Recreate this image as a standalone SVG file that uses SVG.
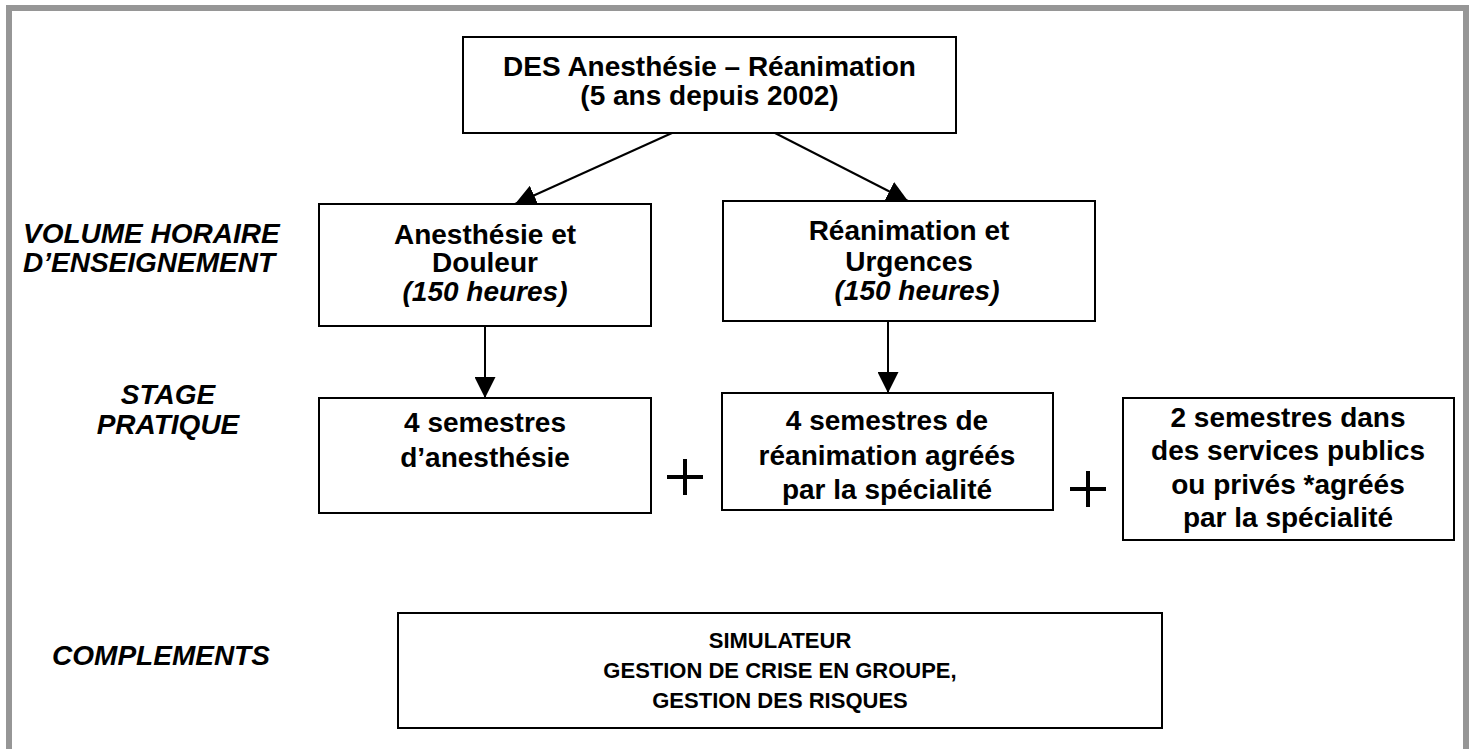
<svg xmlns="http://www.w3.org/2000/svg" width="1473" height="749" viewBox="0 0 1473 749">
<style>
.box{fill:#fff;stroke:#000;stroke-width:2}
.t{font-family:"Liberation Sans",Arial,sans-serif;font-weight:bold;font-size:28px;fill:#000;text-anchor:middle}
.i{font-style:italic}
.lbl{font-family:"Liberation Sans",Arial,sans-serif;font-weight:bold;font-style:italic;font-size:28px;fill:#000}
.s{font-size:22px}
.c{stroke:#000;stroke-width:2;fill:none}
.plus{stroke:#000;stroke-width:4}
</style>
<defs>
<marker id="ahb" viewBox="0 0 10 10" refX="10" refY="5" markerWidth="21" markerHeight="21" markerUnits="userSpaceOnUse" orient="auto">
<path d="M0,0 L10,5 L0,10 z" fill="#000"/>
</marker>
</defs>
<rect x="0" y="0" width="1473" height="749" fill="#fff"/>
<rect x="9" y="8" width="1457" height="770" fill="none" stroke="#969696" stroke-width="6"/>

<g id="labels">
<text class="lbl" x="23" y="243">VOLUME HORAIRE</text>
<text class="lbl" x="23" y="272">D’ENSEIGNEMENT</text>
<text class="lbl" x="168" y="404" text-anchor="middle" font-size="27">STAGE</text>
<text class="lbl" x="168" y="434" text-anchor="middle" font-size="27">PRATIQUE</text>
<text class="lbl" x="161" y="665" text-anchor="middle" font-size="26">COMPLEMENTS</text>
</g>

<g id="connectors">
<line class="c" x1="672" y1="133" x2="515" y2="204" marker-end="url(#ahb)"/>
<line class="c" x1="775" y1="133" x2="908" y2="201" marker-end="url(#ahb)"/>
<line class="c" x1="485" y1="326" x2="485" y2="398" marker-end="url(#ahb)"/>
<line class="c" x1="888" y1="321" x2="888" y2="393" marker-end="url(#ahb)"/>
</g>

<g id="n-des">
<rect class="box" x="463" y="37" width="493" height="96"/>
<text class="t" x="709.5" y="76">DES Anesthésie – Réanimation</text>
<text class="t" x="709.5" y="105">(5 ans depuis 2002)</text>
</g>

<g id="n-anesth">
<rect class="box" x="319" y="204" width="332" height="122"/>
<text class="t" x="485" y="244">Anesthésie et</text>
<text class="t" x="485" y="272">Douleur</text>
<text class="t i" x="485" y="301">(150 heures)</text>
</g>

<g id="n-rea">
<rect class="box" x="723" y="201" width="372" height="120"/>
<text class="t" x="909" y="240">Réanimation et</text>
<text class="t" x="909" y="271">Urgences</text>
<text class="t i" x="917" y="300">(150 heures)</text>
</g>

<g id="n-stage1">
<rect class="box" x="319" y="398" width="332" height="115"/>
<text class="t" x="485" y="432">4 semestres</text>
<text class="t" x="485" y="467">d’anesthésie</text>
</g>

<g id="plus1">
<line class="plus" x1="667" y1="477" x2="703" y2="477"/>
<line class="plus" x1="685" y1="459" x2="685" y2="495"/>
</g>

<g id="n-stage2">
<rect class="box" x="722" y="393" width="331" height="117"/>
<text class="t" x="887" y="430">4 semestres de</text>
<text class="t" x="887" y="465">réanimation agréés</text>
<text class="t" x="887" y="499">par la spécialité</text>
</g>

<g id="plus2">
<line class="plus" x1="1070" y1="489" x2="1106" y2="489"/>
<line class="plus" x1="1088" y1="471" x2="1088" y2="507"/>
</g>

<g id="n-stage3">
<rect class="box" x="1123" y="398" width="331" height="142"/>
<text class="t" x="1288" y="427">2 semestres dans</text>
<text class="t" x="1288" y="460">des services publics</text>
<text class="t" x="1288" y="494">ou privés *agréés</text>
<text class="t" x="1288" y="527">par la spécialité</text>
</g>

<g id="n-compl">
<rect class="box" x="398" y="613" width="764" height="115"/>
<text class="t s" x="780" y="648">SIMULATEUR</text>
<text class="t s" x="780" y="678">GESTION DE CRISE EN GROUPE,</text>
<text class="t s" x="780" y="708">GESTION DES RISQUES</text>
</g>
</svg>
